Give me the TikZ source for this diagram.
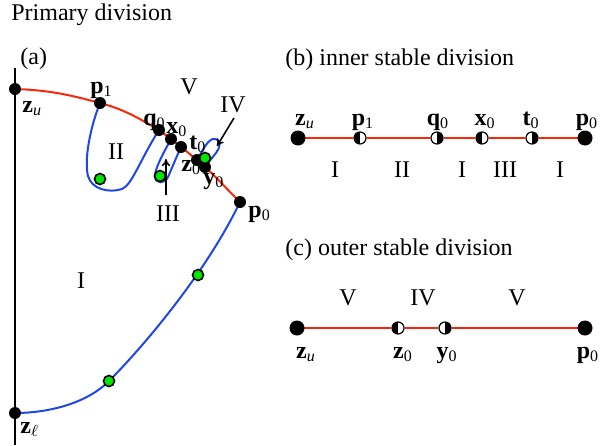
\documentclass[tikz,border=0pt]{standalone}
\usepackage{fontspec}
\setmainfont{Liberation Serif}
\usetikzlibrary{arrows.meta,backgrounds}
\definecolor{redl}{RGB}{250,40,10}
\definecolor{bluel}{RGB}{30,70,235}
\definecolor{greenl}{RGB}{0,230,0}
\newcommand\vlab[2]{\textbf{#1}\textsubscript{#2}}
\begin{document}
\begin{tikzpicture}[x=0.5pt,y=-0.5pt,font=\fontsize{12}{14}\selectfont,
  bigdot/.style={circle,fill=black,inner sep=0,minimum size=7.5pt},
  adot/.style={circle,fill=black,inner sep=0,minimum size=6pt},
  gdot/.style={circle,fill=greenl,draw=black,line width=0.8pt,inner sep=0,minimum size=5.5pt},
  halfL/.style={circle,draw=black,fill=white,line width=0.6pt,inner sep=0,minimum size=6pt,
    path picture={\fill[black] (path picture bounding box.south west) rectangle (path picture bounding box.north);}},
  halfR/.style={circle,draw=black,fill=white,line width=0.6pt,inner sep=0,minimum size=6pt,
    path picture={\fill[black] (path picture bounding box.south east) rectangle (path picture bounding box.north);}},
  lbl/.style={inner sep=0,anchor=base},
  lblw/.style={inner sep=0,anchor=base west},
  redline/.style={draw=redl,line width=1pt},
  redthick/.style={draw=redl,line width=1.3pt},
  blueline/.style={draw=bluel,line width=1pt},
  arr/.style={draw=black,line width=0.8pt,-{To[length=3.5pt,width=4pt]}}]
\useasboundingbox (0,0) rectangle (600,445);

% titles
\node[lblw] (title) at (11,20) {Primary division};
\node[lblw] (ta) at (20,64) {(a)};
\node[lblw] (tb) at (285,65) {(b) inner stable division};
\node[lblw] (tc) at (285,255) {(c) outer stable division};

% ---------- panel (a) ----------
\coordinate (vtop) at (15,68);
\coordinate (vbot) at (15,445);
\node[adot] (zu) at (15,89) {};
\node[adot] (zl) at (15,413) {};
\node[adot] (p1) at (100,103) {};
\node[adot] (q0) at (159,130) {};
\node[adot] (x0) at (171,139) {};
\node[adot] (t0) at (181,147) {};
\node[adot] (z0) at (197,160) {};
\node[adot] (y0) at (205,167) {};
\node[adot] (p0) at (240,202) {};

\begin{scope}[on background layer]
  \draw[line width=1pt] (vtop) -- (vbot);
  \draw[redline] (zu.center) to[out=-2,in=165] (p1.center) to[out=-15,in=150] (q0.center)
     to[out=-35,in=145] (x0.center) to[out=-35,in=145] (t0.center) to[out=-37,in=142] (z0.center)
     to[out=-40,in=138] (y0.center) to[out=-42,in=136] (p0.center);
  \draw[blueline] (p1.center) .. controls (90,128) and (84,160) .. (88,176)
     .. controls (92,190) and (110,193) .. (122,189)
     .. controls (132,185) and (140,160) .. (q0.center);
  \draw[blueline] (x0.center) .. controls (164,152) and (154,170) .. (155,177)
     .. controls (156,184) and (165,184) .. (168,177)
     .. controls (172,168) and (176,158) .. (t0.center);
  \draw[blueline] (z0.center) .. controls (203,150) and (208,138) .. (215,139)
     .. controls (222,140) and (220,148) .. (216,153)
     .. controls (212,158) and (207,164) .. (y0.center);
  \draw[blueline] (p0.center) .. controls (205,275) and (140,350) .. (109,381)
     .. controls (85,405) and (45,413) .. (zl.center);
\end{scope}

\node[gdot] (g1) at (100,179) {};
\node[gdot] (g2) at (160,176) {};
\node[gdot] (g3) at (205,158) {};
\node[gdot] (g4) at (198,275) {};
\node[gdot] (g5) at (109,381) {};

\node[lblw] (lzu) at (22,112) {\vlab{z}{\textit{u}}};
\node[lblw] (lzl) at (20,433) {\vlab{z}{$\ell$}};
\node[lblw] (lp1) at (90,93) {\vlab{p}{1}};
\node[lblw] (lq0) at (143,125) {\vlab{q}{0}};
\node[lblw] (lx0) at (166,133) {\vlab{x}{0}};
\node[lblw] (lt0) at (189,149) {\vlab{t}{0}};
\node[lblw] (lz0) at (181,171) {\vlab{z}{0}};
\node[lblw] (ly0) at (203,184) {\vlab{y}{0}};
\node[lblw] (lp0) at (248,217) {\vlab{p}{0}};

\node[lbl] (rV) at (189,94) {V};
\node[lbl] (rIV) at (233,112) {IV};
\node[lbl] (rII) at (116,159) {II};
\node[lbl] (rIII) at (168,221) {III};
\node[lbl] (rI) at (81,288) {I};

\coordinate (ivs) at (234,118);
\coordinate (ivt) at (217,146);
\coordinate (iiis) at (166,195);
\coordinate (iiit) at (166,159);
\draw[arr] (ivs) -- (ivt);
\draw[arr] (iiis) -- (iiit);

% ---------- panel (b) ----------
\node[bigdot] (bzu) at (298,138) {};
\node[halfL] (bp1) at (360,138) {};
\node[halfR] (bq0) at (437,138) {};
\node[halfL] (bx0) at (482,138) {};
\node[halfR] (bt0) at (532,138) {};
\node[bigdot] (bp0) at (585,138) {};
\begin{scope}[on background layer]
  \draw[redthick] (bzu.center) -- (bp1) -- (bq0) -- (bx0) -- (bt0) -- (bp0.center);
\end{scope}
\node[lbl] at (305,125) {\vlab{z}{\textit{u}}};
\node[lbl] at (363,125) {\vlab{p}{1}};
\node[lbl] at (438,125) {\vlab{q}{0}};
\node[lbl] at (485,125) {\vlab{x}{0}};
\node[lbl] at (531,125) {\vlab{t}{0}};
\node[lbl] at (587,125) {\vlab{p}{0}};
\node[lbl] at (335,177) {I};
\node[lbl] at (402,177) {II};
\node[lbl] at (462,177) {I};
\node[lbl] at (505,177) {III};
\node[lbl] at (560,177) {I};

% ---------- panel (c) ----------
\node[bigdot] (czu) at (297,328) {};
\node[halfL] (cz0) at (398,328) {};
\node[halfR] (cy0) at (445,328) {};
\node[bigdot] (cp0) at (585,328) {};
\begin{scope}[on background layer]
  \draw[redthick] (czu.center) -- (cz0) -- (cy0) -- (cp0.center);
\end{scope}
\node[lbl] at (306,358) {\vlab{z}{\textit{u}}};
\node[lbl] at (403,358) {\vlab{z}{0}};
\node[lbl] at (447,358) {\vlab{y}{0}};
\node[lbl] at (588,358) {\vlab{p}{0}};
\node[lbl] at (348,305) {V};
\node[lbl] at (423,305) {IV};
\node[lbl] at (517,305) {V};
\end{tikzpicture}
\end{document}
